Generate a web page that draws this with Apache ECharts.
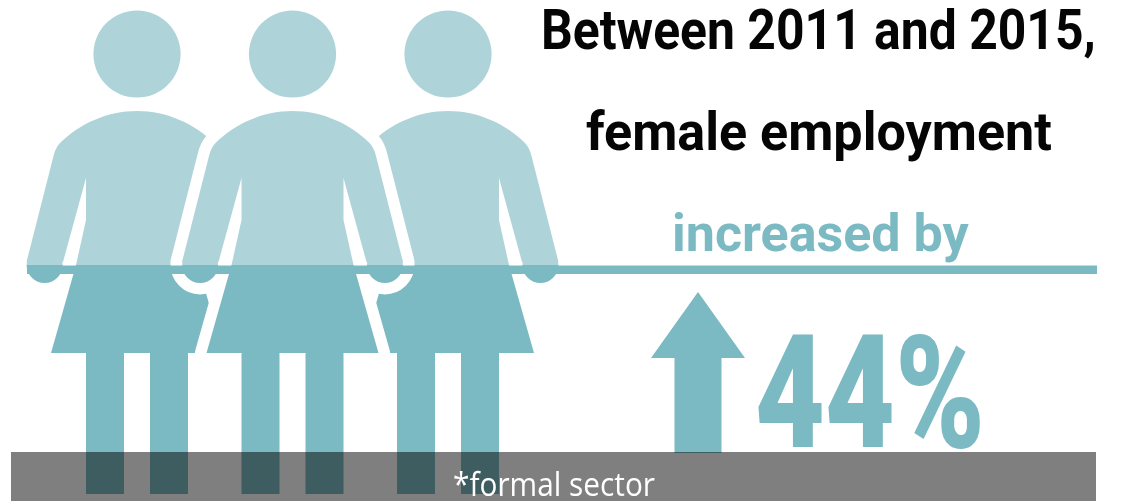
<!DOCTYPE html>
<html>
<head>
<meta charset="utf-8">
<title>Female employment</title>
<script src="https://cdn.jsdelivr.net/npm/echarts@6/dist/echarts.min.js"></script>
<style>
  html, body { margin: 0; padding: 0; background: #fff; }
  #chart { width: 1127px; height: 501px; }
</style>
</head>
<body>
<div id="chart"></div>
<script>
// Content
const headlineLines = ['Between 2011 and 2015,', 'female employment'];
const changeCaption = 'increased by';
const increasePct = [44];
const footnote = '*formal sector';
const figureCentres = [137, 448, 292.5];

// Palette
const LIGHT = '#AED4DA';
const TEAL = '#7CBAC3';
const WATERLINE = 265.5;

const chart = echarts.init(document.getElementById('chart'), null, { renderer: 'canvas' });

// Two-tone fill: every figure changes tone at the horizontal rule.
const split = WATERLINE / 501;
const figureFill = new echarts.graphic.LinearGradient(0, 0, 0, 501, [
  { offset: 0, color: LIGHT },
  { offset: split, color: LIGHT },
  { offset: split, color: TEAL },
  { offset: 1, color: TEAL }
], true);

// Cubic curve sampled to points, for the shoulder line of a figure.
function cubic(p0, p1, p2, p3, n) {
  const out = [];
  for (let i = 0; i <= n; i++) {
    const t = i / n, u = 1 - t;
    out.push([
      u * u * u * p0[0] + 3 * u * u * t * p1[0] + 3 * u * t * t * p2[0] + t * t * t * p3[0],
      u * u * u * p0[1] + 3 * u * u * t * p1[1] + 3 * u * t * t * p2[1] + t * t * t * p3[1]
    ]);
  }
  return out;
}

// Right half of the figure outline: offset from the figure's centre, and page height.
const halfOutline = cubic([0, 111], [30, 111], [58, 124], [77, 143], 16).concat(
  cubic([77, 143], [80, 146], [82, 150], [83.5, 156], 4).slice(1),
  [
    [110.5, 262], [74, 262], [51, 178], [51, 220], [61, 265],
    [86, 353], [51, 353], [51, 494], [13, 494], [13, 353], [0, 353]
  ]
);
const outline = halfOutline.concat(halfOutline.slice(1, -1).reverse().map(p => [-p[0], p[1]]));

function renderFigure(params, api) {
  const cx = api.value(0);
  const at = (dx, y) => api.coord([cx + dx, y]);
  const points = outline.map(p => at(p[0], p[1]));
  const head = at(0, 54);
  const hands = [at(-92.4, 265), at(92.4, 265)];
  const centre = figureCentres[figureCentres.length - 1];
  const children = [];
  if (cx === centre) {
    // The centre figure stands in front and is ringed with white.
    const ring = { fill: '#fff', stroke: '#fff', lineWidth: 23, lineJoin: 'round' };
    children.push({ type: 'polygon', shape: { points }, style: ring });
    hands.forEach(h => children.push({ type: 'circle', shape: { cx: h[0], cy: h[1], r: 18 }, style: ring }));
  } else {
    // Side figures show no arm gap on the side facing the centre figure.
    const s = cx < centre ? 1 : -1;
    children.push({
      type: 'polygon',
      shape: { points: [at(s * 30, 170), at(s * 85, 170), at(s * 85, 265), at(s * 30, 265)] },
      style: { fill: figureFill }
    });
  }
  children.push({ type: 'polygon', shape: { points }, style: { fill: figureFill } });
  hands.forEach(h => children.push({ type: 'circle', shape: { cx: h[0], cy: h[1], r: 18 }, style: { fill: figureFill } }));
  children.push({ type: 'ellipse', shape: { cx: head[0], cy: head[1], rx: 43.6, ry: 43.6 }, style: { fill: LIGHT } });
  return { type: 'group', children };
}

function renderArrow(params, api) {
  const v = api.value(0);
  const tip = api.coord([698, v]);
  const neck = api.coord([698, v * 0.59]);
  const foot = api.coord([698, 0]);
  const x = tip[0];
  return {
    type: 'polygon',
    shape: { points: [
      [x, tip[1]], [x + 47, neck[1]], [x + 23.5, neck[1]], [x + 23.5, foot[1]],
      [x - 23.5, foot[1]], [x - 23.5, neck[1]], [x - 47, neck[1]]
    ] },
    style: { fill: TEAL }
  };
}

function textEl(api, x, bottom, text, font, fill, scaleX) {
  const p = api.coord([x, bottom]);
  return {
    type: 'text', x: p[0], y: p[1], scaleX: scaleX || 1,
    style: { text, font, fill, textAlign: 'left', textVerticalAlign: 'bottom' }
  };
}

const option = {
  animation: false,
  backgroundColor: '#fff',
  grid: [
    { left: 0, right: 0, top: 0, bottom: 0 },
    { left: 0, right: 0, top: 292, bottom: 48 }
  ],
  xAxis: [
    { type: 'value', min: 0, max: 1127, show: false, gridIndex: 0 },
    { type: 'value', min: 0, max: 1127, show: false, gridIndex: 1 }
  ],
  yAxis: [
    { type: 'value', min: 0, max: 501, inverse: true, show: false, gridIndex: 0 },
    { type: 'value', min: 0, max: 44, show: false, gridIndex: 1 }
  ],
  series: [
    {
      // Side figures first, centre figure last so it overlaps them.
      type: 'custom', z: 2, coordinateSystem: 'cartesian2d', clip: false,
      xAxisIndex: 0, yAxisIndex: 0,
      data: figureCentres.map(c => [c]),
      renderItem: renderFigure
    },
    {
      type: 'custom', z: 2, clip: false, xAxisIndex: 1, yAxisIndex: 1,
      data: increasePct.map(v => [v]),
      encode: { y: 0 },
      renderItem: renderArrow
    },
    {
      // Horizontal rule under the caption
      type: 'custom', z: 3, clip: false, xAxisIndex: 0, yAxisIndex: 0,
      data: [[0]],
      renderItem(params, api) {
        const a = api.coord([27, 265.5]), b = api.coord([1097, 274]);
        return { type: 'rect', shape: { x: a[0], y: a[1], width: b[0] - a[0], height: b[1] - a[1] }, style: { fill: TEAL } };
      }
    },
    {
      // Translucent footer strip
      type: 'custom', z: 4, clip: false, xAxisIndex: 0, yAxisIndex: 0,
      data: [[0]],
      renderItem(params, api) {
        const a = api.coord([11, 452]), b = api.coord([1096, 501]);
        return { type: 'rect', shape: { x: a[0], y: a[1], width: b[0] - a[0], height: b[1] - a[1] }, style: { fill: 'rgba(0,0,0,0.5)' } };
      }
    },
    {
      type: 'custom', z: 5, clip: false, xAxisIndex: 0, yAxisIndex: 0,
      data: [[0]],
      renderItem(params, api) {
        return {
          type: 'group',
          children: [
            textEl(api, 541, 63, headlineLines[0], '700 56px Roboto', '#050505', 0.89),
            textEl(api, 586, 163, headlineLines[1], '700 54px Roboto', '#050505', 0.965),
            textEl(api, 672, 264, changeCaption, '700 52px Roboto', TEAL, 1.0),
            textEl(api, 755, 486, increasePct[0] + '%', '900 157px Roboto', TEAL, 0.77),
            textEl(api, 453, 503, footnote, '400 32px "Open Sans"', '#fff', 0.932)
          ]
        };
      }
    }
  ]
};

chart.setOption(option);
</script>
</body>
</html>
